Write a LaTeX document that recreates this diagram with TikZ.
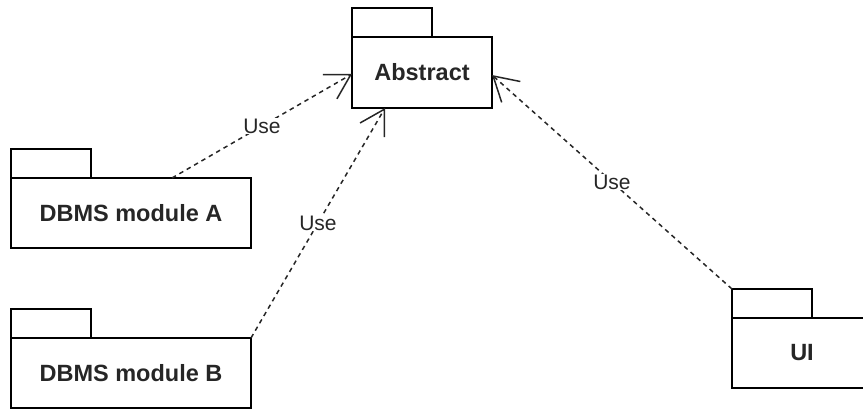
\documentclass[tikz,border=0pt]{standalone}
\usepackage{fontspec}
\setmainfont{Liberation Sans}
\usepackage{tikz}
\usetikzlibrary{arrows.meta, positioning}

\begin{document}
\begin{tikzpicture}[
    x=1pt, y=-1pt,
    pkg/.style={rectangle, draw=black, line width=1.5pt, outer sep=0pt,
                minimum width=140pt, minimum height=70pt,
                font=\fontsize{23.5}{28}\selectfont\bfseries, text=black!85},
    pkgtab/.style={rectangle, draw=black, line width=1.5pt, outer sep=0pt,
                   inner sep=0pt, minimum width=80pt, minimum height=29pt},
    dep/.style={line width=1.5pt, dash pattern=on 4.5pt off 4pt, draw=black!85,
                -{Straight Barb[length=24pt, width=28pt, line width=1.5pt]}},
    uselabel/.style={fill=white, inner sep=1pt,
                     font=\fontsize{21}{25}\selectfont, text=black!85}
]

\useasboundingbox (0,0) rectangle (863,412);
\clip (0,0) rectangle (863,412);

%% --- PACKAGES ---
\node[pkg, minimum height=71pt] (abstract) at (422,72.5) {Abstract};
\node[pkg, minimum width=240pt] (dbmsa) at (131,213) {DBMS module A};
\node[pkg, minimum width=240pt] (dbmsb) at (131,373) {DBMS module B};
\node[pkg] (ui) at (802,353) {UI};

%% --- TABS ---
\node[pkgtab, above right=0pt and 0pt of abstract.north west] (abstracttab) {};
\node[pkgtab, above right=0pt and 0pt of dbmsa.north west] (dbmsatab) {};
\node[pkgtab, above right=0pt and 0pt of dbmsb.north west] (dbmsbtab) {};
\node[pkgtab, above right=0pt and 0pt of ui.north west] (uitab) {};

%% --- DEPENDENCIES ---
\draw[dep] ([xshift=41pt]dbmsa.north) -- node[uselabel] {Use} ([yshift=-1.5pt]abstract.west);
\draw[dep] (dbmsb.north east) -- node[uselabel] {Use} ([xshift=-37pt]abstract.south);
\draw[dep] (uitab.north west) -- node[uselabel] {Use} ([yshift=-2.5pt]abstract.east);

\end{tikzpicture}
\end{document}
